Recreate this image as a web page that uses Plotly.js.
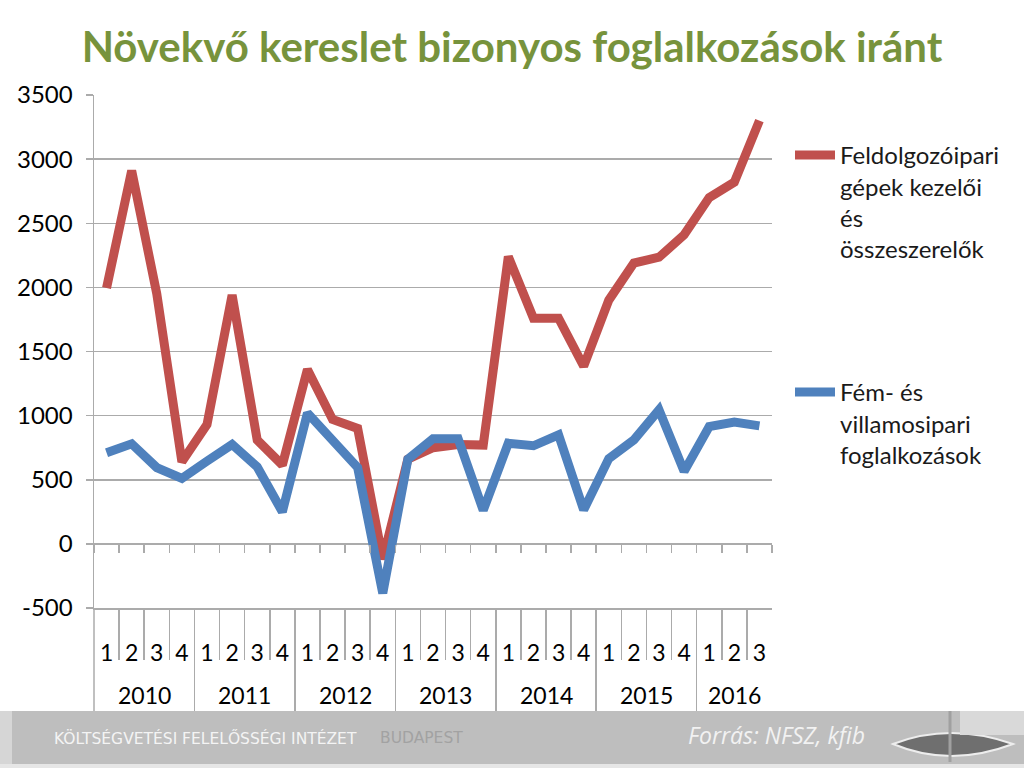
<!DOCTYPE html>
<html><head><meta charset="utf-8">
<script src="https://cdn.plot.ly/plotly-3.0.1.min.js"></script>
<style>html,body{margin:0;padding:0;background:#fff;} #chart{width:1024px;height:768px;}</style>
</head><body><div id="chart"></div>
<script>
// ---- data ----
const titleText = 'Növekvő kereslet bizonyos foglalkozások iránt';
const pointYears = ['2010','2010','2010','2010','2011','2011','2011','2011','2012','2012','2012','2012','2013','2013','2013','2013','2014','2014','2014','2014','2015','2015','2015','2015','2016','2016','2016'];
const pointQuarters = ['1','2','3','4','1','2','3','4','1','2','3','4','1','2','3','4','1','2','3','4','1','2','3','4','1','2','3'];
const seriesNames = ['Feldolgozóipari<br>gépek kezelői<br>és<br>összeszerelők', 'Fém- és<br>villamosipari<br>foglalkozások'];
const feldolgozoipari = [1995, 2910, 1950, 640, 930, 1940, 810, 615, 1360, 970, 900, -120, 660, 750, 775, 770, 2240, 1760, 1760, 1385, 1900, 2190, 2235, 2410, 2700, 2820, 3300];
const femVillamosipari = [710, 780, 595, 510, 645, 775, 600, 250, 1020, 800, 595, -385, 660, 820, 820, 262, 785, 765, 850, 265, 665, 810, 1045, 565, 915, 950, 920];
const yTicks = [-500, 0, 500, 1000, 1500, 2000, 2500, 3000, 3500];
const yTickLabels = ['-500', '0', '500', '1000', '1500', '2000', '2500', '3000', '3500'];
const sourceText = 'Forrás: NFSZ, kfib';
const footerText = 'KÖLTSÉGVETÉSI FELELŐSSÉGI INTÉZET';
const footerCity = 'BUDAPEST';

// category keys (one per quarter) and year groups derived from the label arrays
const keys = pointYears.map((y, i) => y + '-' + pointQuarters[i]);
const yearList = [], yearFirst = [], yearLast = [];
pointYears.forEach((y, i) => {
  if (yearList[yearList.length - 1] !== y) { yearList.push(y); yearFirst.push(i); yearLast.push(i); }
  else yearLast[yearLast.length - 1] = i;
});
const yearCenters = yearFirst.map((f, k) => (f + yearLast[k]) / 2);
const yearBounds = yearFirst.map(f => f - 0.5).concat([pointYears.length - 0.5]);

// ---- layout geometry (pixels) ----
const W = 1024, H = 768;
const L = 94, R = 772, T = 95, B = 711;   // paper box
const plotBottom = 608;
const d0 = (B - plotBottom) / (B - T);
const yMin = yTicks[0], yMax = yTicks[yTicks.length - 1];
const zeroPos = d0 + (0 - yMin) / (yMax - yMin) * (1 - d0);
const px = p => (p - L) / (R - L);
const py = p => (B - p) / (B - T);
const sepPos = py(660);
const xr = [-0.5, pointYears.length - 0.5];

const font = 'Lato, "Open Sans", sans-serif';
const grid = '#ababab';

const helper = ax => ({x: keys, y: femVillamosipari, type: 'scatter', mode: 'lines', xaxis: ax, opacity: 0,
  showlegend: false, hoverinfo: 'skip'});

const traces = [
  {x: keys, y: feldolgozoipari, type: 'scatter', mode: 'lines', name: seriesNames[0],
   line: {color: '#C0504D', width: 9}, legend: 'legend'},
  {x: keys, y: femVillamosipari, type: 'scatter', mode: 'lines', name: seriesNames[1],
   line: {color: '#4F81BD', width: 9}, legend: 'legend2'},
  helper('x2'), helper('x3'), helper('x4')
];

const catAxisBase = {type: 'category', range: xr, showgrid: false, zeroline: false,
  tickmode: 'linear', tick0: 0, dtick: 1, tickson: 'boundaries', showticklabels: false};

const layout = {
  width: W, height: H,
  margin: {l: L, r: W - R, t: T, b: H - B, pad: 0},
  paper_bgcolor: '#fff', plot_bgcolor: '#fff',
  showlegend: true,
  title: {text: '<b>' + titleText + '</b>', font: {family: font, size: 42, color: '#77933C'},
          x: 0.5, xref: 'container', xanchor: 'center', y: 1 - 47 / H, yref: 'container', yanchor: 'middle'},
  xaxis: {type: 'category', range: xr, showgrid: false, zeroline: false,
          showline: true, linecolor: grid, linewidth: 1.5,
          tickmode: 'array', tickvals: keys, ticktext: pointQuarters,
          ticks: 'outside', ticklen: 24, tickcolor: 'rgba(0,0,0,0)',
          tickfont: {family: font, size: 23, color: '#000'}},
  xaxis2: Object.assign({}, catAxisBase, {overlaying: 'x', anchor: 'free', position: zeroPos, side: 'bottom',
           showline: false, ticks: 'outside', ticklen: 8, tickwidth: 1.5, tickcolor: grid}),
  xaxis3: Object.assign({}, catAxisBase, {overlaying: 'x', anchor: 'free', position: sepPos, side: 'bottom',
           showline: false, ticks: 'inside', ticklen: 660 - plotBottom, tickwidth: 1.5, tickcolor: grid}),
  xaxis4: {type: 'linear', overlaying: 'x', anchor: 'free', position: 0, side: 'bottom', range: xr,
           showgrid: false, zeroline: false, showline: false, showticklabels: false,
           tickmode: 'array', tickvals: yearBounds, ticks: 'inside', ticklen: B - plotBottom,
           tickwidth: 1.5, tickcolor: grid},
  yaxis: {domain: [d0, 1], range: [yMin, yMax], tickmode: 'array', tickvals: yTicks, ticktext: yTickLabels,
          showgrid: true, gridcolor: grid, gridwidth: 1.5,
          zeroline: false, showline: true, linecolor: grid, linewidth: 1.5,
          ticks: 'outside', ticklen: 7, tickwidth: 1.5, tickcolor: grid, ticklabelstandoff: 8,
          tickfont: {family: font, size: 24, color: '#000'}},
  legend: {x: px(790), xanchor: 'left', y: py(133), yanchor: 'top', valign: 'top',
           font: {family: font, size: 24, color: '#1a1a1a'}, bgcolor: 'rgba(0,0,0,0)', itemwidth: 40},
  legend2: {x: px(790), xanchor: 'left', y: py(370), yanchor: 'top', valign: 'top',
           font: {family: font, size: 24, color: '#1a1a1a'}, bgcolor: 'rgba(0,0,0,0)', itemwidth: 40},
  shapes: [
    {type: 'line', xref: 'paper', yref: 'paper', x0: 0, x1: 0, y0: 0, y1: d0, line: {color: grid, width: 1.5}},
    {type: 'rect', xref: 'paper', yref: 'paper', x0: px(0), x1: px(W), y0: py(764), y1: py(711),
     fillcolor: '#bebebe', line: {width: 0}, layer: 'above'},
    {type: 'rect', xref: 'paper', yref: 'paper', x0: px(0), x1: px(12), y0: py(764), y1: py(711),
     fillcolor: '#d6d6d6', line: {width: 0}, layer: 'above'},
    {type: 'rect', xref: 'paper', yref: 'paper', x0: px(0), x1: px(W), y0: py(768), y1: py(764),
     fillcolor: '#e6e6e6', line: {width: 0}, layer: 'above'},
    {type: 'path', xref: 'paper', yref: 'paper', layer: 'above',
     path: 'M' + px(893) + ',' + py(744) + ' Q' + px(950) + ',' + py(722) + ' ' + px(1013) + ',' + py(744) +
           ' Q' + px(950) + ',' + py(768) + ' ' + px(893) + ',' + py(744) + ' Z',
     fillcolor: '#6f6f6f', line: {color: '#ededed', width: 2}},
    {type: 'rect', xref: 'paper', yref: 'paper', x0: px(960), x1: px(1024), y0: py(735), y1: py(711),
     fillcolor: '#d9d9d9', line: {width: 0}, layer: 'above'},
    {type: 'line', xref: 'paper', yref: 'paper', x0: px(950), x1: px(950), y0: py(711), y1: py(762),
     line: {color: '#a0a0a0', width: 3}, layer: 'above'}
  ],
  annotations: [
    {text: footerText, xref: 'paper', yref: 'paper', x: px(52), y: py(738), xanchor: 'left', yanchor: 'middle',
     showarrow: false, font: {family: '"DejaVu Sans", sans-serif', size: 15.5, color: '#f4f4f4'}},
    {text: footerCity, xref: 'paper', yref: 'paper', x: px(378), y: py(738), xanchor: 'left', yanchor: 'middle',
     showarrow: false, font: {family: '"DejaVu Sans", sans-serif', size: 15.5, color: '#a2a2a2'}},
    {text: sourceText, xref: 'paper', yref: 'paper', x: px(686), y: py(735), xanchor: 'left', yanchor: 'middle',
     showarrow: false, font: {family: '"Open Sans", sans-serif', size: 23, color: '#f2f2f2', style: 'italic'}}
  ].concat(yearList.map((yr, k) => ({
     text: yr, xref: 'x', yref: 'paper', x: yearCenters[k], y: py(695), xanchor: 'center', yanchor: 'middle',
     showarrow: false, font: {family: font, size: 23, color: '#000'}})))
};

Plotly.newPlot('chart', traces, layout, {displayModeBar: false, staticPlot: true});
</script>
</body></html>
